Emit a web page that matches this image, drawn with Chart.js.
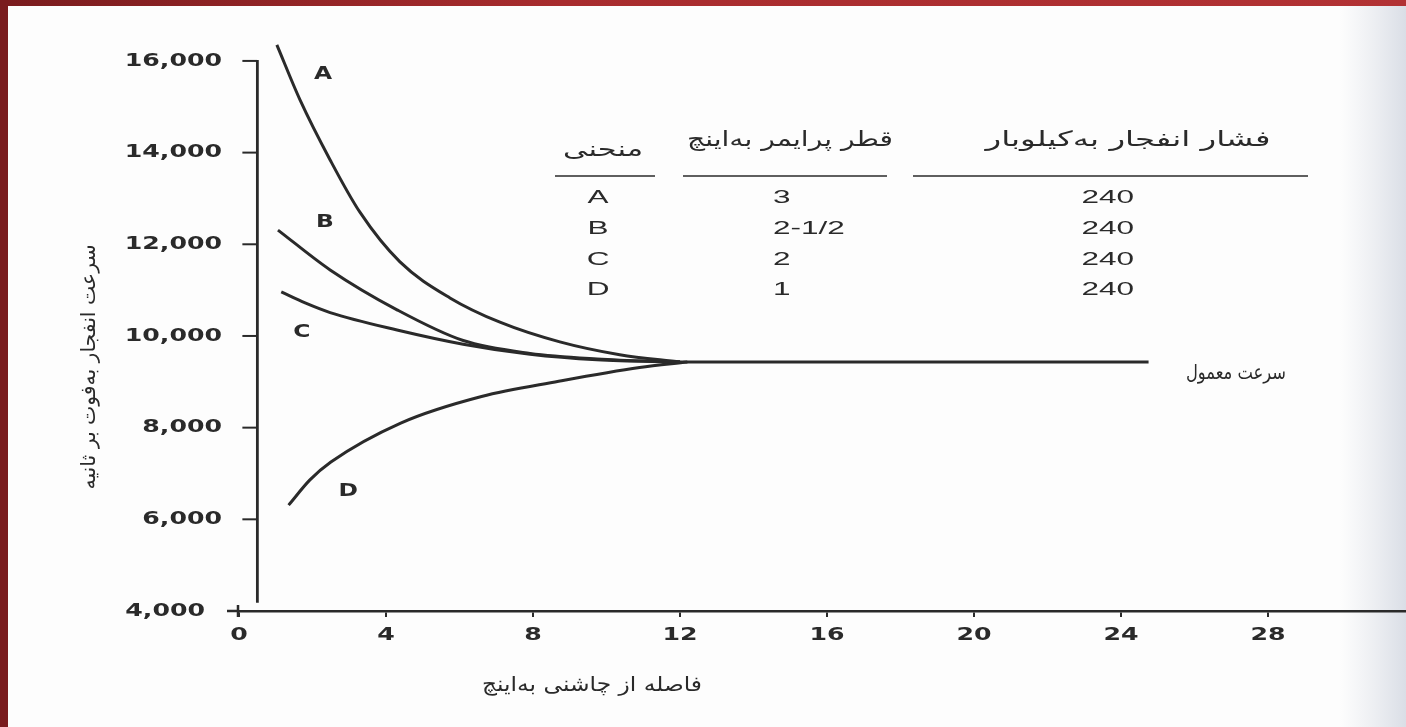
<!DOCTYPE html>
<html>
<head>
<meta charset="utf-8">
<script src="https://cdn.jsdelivr.net/npm/chart.js@4.4.0/dist/chart.umd.min.js"></script>
<style>
  body { margin: 0; background: #fdfdfd; overflow: hidden; }
  #wrap { position: relative; width: 1406px; height: 727px; }
  #topBand { position: absolute; left: 0; top: 0; width: 1406px; height: 6px; background: linear-gradient(to right, #7a1c1e, #a82c2e 40%, #b23234); }
  #leftBand { position: absolute; left: 0; top: 0; width: 8px; height: 727px; background: #7a1c1e; }
</style>
</head>
<body>
<div id="wrap">
  <canvas id="myChart" width="1406" height="727"></canvas>
  <div id="topBand"></div>
  <div id="leftBand"></div>
</div>
<script>
// منحنی ها : فاصله (اینچ) و سرعت (فوت بر ثانیه)
const curveAx = [1.03, 1.66, 2.48, 3.29, 4.38, 5.74, 7.1, 8.73, 10.36, 12];
const curveAy = [16350, 15150, 13840, 12700, 11615, 10830, 10300, 9870, 9590, 9430];
const curveBx = [1.06, 2.48, 4.3, 6.1, 7.92, 9.74, 12];
const curveBy = [12310, 11440, 10570, 9900, 9620, 9500, 9430];
const curveCx = [1.15, 1.8, 2.48, 4.3, 6.1, 7.92, 9.74, 12];
const curveCy = [10960, 10720, 10510, 10130, 9820, 9600, 9480, 9430];
const curveDx = [1.35, 1.93, 2.5, 4.4, 6.6, 8.7, 10.9, 12.2];
const curveDy = [6310, 6860, 7250, 8100, 8680, 9010, 9310, 9430];
const normalX = [11.5, 24.75];
const normalY = [9430, 9430];

const xTicks = [0, 4, 8, 12, 16, 20, 24, 28];
const yTicks = [4000, 6000, 8000, 10000, 12000, 14000, 16000];

// جدول
const tableCurves = ["A", "B", "C", "D"];
const tableDiam = ["3", "2-1/2", "2", "1"];
const tablePressure = ["240", "240", "240", "240"];

const txtHeadCurve = "منحنی";
const txtHeadDiam = "قطر پرایمر به\u200cاینچ";
const txtHeadPress = "فشار انفجار به\u200cکیلوبار";
const txtYTitle = "سرعت انفجار به\u200cفوت بر ثانیه";
const txtXTitle = "فاصله از چاشنی به\u200cاینچ";
const txtNormal = "سرعت معمول";

const ink = "#2a2a2a";

function pts(xs, ys) {
    return xs.map((x, i) => ({ x: x, y: ys[i] }));
}

function curve(xs, ys) {
    return {
        data: pts(xs, ys),
        borderColor: ink,
        borderWidth: 3,
        pointRadius: 0,
        cubicInterpolationMode: "monotone",
        fill: false
    };
}

// texte etire horizontalement (le scan est elargi)
function stretched(ctx, text, x, y, font, sx, align, rtl) {
    ctx.save();
    ctx.font = font;
    ctx.direction = rtl ? "rtl" : "ltr";
    ctx.textAlign = align;
    ctx.textBaseline = "middle";
    ctx.fillStyle = ink;
    ctx.translate(x, y);
    ctx.scale(sx, 1);
    ctx.fillText(text, 0, 0);
    ctx.restore();
}

function fitted(ctx, text, cx, cy, font, width, rot) {
    ctx.save();
    ctx.font = font;
    ctx.direction = "rtl";
    ctx.textAlign = "center";
    ctx.textBaseline = "middle";
    ctx.fillStyle = ink;
    const w = ctx.measureText(text).width;
    ctx.translate(cx, cy);
    if (rot) ctx.rotate(rot);
    ctx.scale(width / w, 1);
    ctx.fillText(text, 0, 0);
    ctx.restore();
}

const fond = {
    id: "fond",
    beforeDraw(chart) {
        const ctx = chart.ctx;
        ctx.save();
        ctx.fillStyle = "#fdfdfd";
        ctx.fillRect(0, 0, chart.width, chart.height);
        const g = ctx.createLinearGradient(1340, 0, 1406, 0);
        g.addColorStop(0, "rgba(225,228,234,0)");
        g.addColorStop(1, "rgba(218,222,230,1)");
        ctx.fillStyle = g;
        ctx.fillRect(1340, 0, 66, chart.height);
        ctx.restore();
    }
};

const habillage = {
    id: "habillage",
    afterDraw(chart) {
        const ctx = chart.ctx;
        const xs = chart.scales.x;
        const ys = chart.scales.y;
        const bottom = chart.chartArea.bottom;

        ctx.save();
        ctx.strokeStyle = ink;
        ctx.lineWidth = 2.8;

        // axe vertical
        const x0 = xs.getPixelForValue(0.5);
        ctx.beginPath();
        ctx.moveTo(x0, ys.getPixelForValue(16000) - 1);
        ctx.lineTo(x0, ys.getPixelForValue(4180));
        ctx.stroke();

        ctx.lineWidth = 2;
        yTicks.forEach(v => {
            if (v == 4000) return;
            const py = ys.getPixelForValue(v);
            ctx.beginPath();
            ctx.moveTo(x0 - 15, py);
            ctx.lineTo(x0, py);
            ctx.stroke();
        });

        // croix a l'origine
        const xz = xs.getPixelForValue(0);
        ctx.lineWidth = 2.5;
        ctx.beginPath();
        ctx.moveTo(xz - 12, bottom);
        ctx.lineTo(xz, bottom);
        ctx.moveTo(xz - 1, bottom - 6);
        ctx.lineTo(xz - 1, bottom + 6);
        ctx.stroke();
        ctx.restore();

        const tickFont = "bold 18px 'DejaVu Sans'";
        yTicks.forEach(v => {
            const py = ys.getPixelForValue(v);
            const right = v == 4000 ? 205 : 222;
            stretched(ctx, v.toLocaleString("en-US"), right, py, tickFont, 1.4, "right");
        });
        xTicks.forEach(v => {
            stretched(ctx, String(v), xs.getPixelForValue(v), bottom + 24, tickFont, 1.4, "center");
        });

        // lettres des courbes
        const lettre = "bold 18px 'DejaVu Sans'";
        stretched(ctx, "A", xs.getPixelForValue(2.29), ys.getPixelForValue(15700), lettre, 1.3, "center");
        stretched(ctx, "B", xs.getPixelForValue(2.34), ys.getPixelForValue(12470), lettre, 1.3, "center");
        stretched(ctx, "C", xs.getPixelForValue(1.71), ys.getPixelForValue(10070), lettre, 1.3, "center");
        stretched(ctx, "D", xs.getPixelForValue(2.97), ys.getPixelForValue(6600), lettre, 1.3, "center");

        // tableau
        const arabe = "21px 'DejaVu Sans'";
        fitted(ctx, txtHeadCurve, 603, 151, arabe, 80);
        fitted(ctx, txtHeadDiam, 790, 141, arabe, 206);
        fitted(ctx, txtHeadPress, 1128, 141, arabe, 285);

        ctx.save();
        ctx.strokeStyle = ink;
        ctx.lineWidth = 1.6;
        [[555, 655], [683, 887], [913, 1308]].forEach(s => {
            ctx.beginPath();
            ctx.moveTo(s[0], 176);
            ctx.lineTo(s[1], 176);
            ctx.stroke();
        });
        ctx.restore();

        const rowY = [198, 229, 260, 290];
        const tabFont = "18px 'Liberation Sans'";
        tableCurves.forEach((c, i) => {
            stretched(ctx, c, 598, rowY[i], tabFont, 1.75, "center");
            stretched(ctx, tableDiam[i], 773, rowY[i], tabFont, 1.75, "left");
            stretched(ctx, tablePressure[i], 1134, rowY[i], tabFont, 1.75, "right");
        });

        // titres
        fitted(ctx, txtYTitle, 90, 367, "20px 'DejaVu Sans'", 245, -Math.PI / 2);
        fitted(ctx, txtXTitle, 592, 686, "20px 'DejaVu Sans'", 220);
        fitted(ctx, txtNormal, 1236, 374, "20px 'DejaVu Sans'", 100);
    }
};

const ctx = document.getElementById("myChart");
const chart = new Chart(ctx, {
    type: "line",
    data: {
        datasets: [
            curve(curveAx, curveAy),
            curve(curveBx, curveBy),
            curve(curveCx, curveCy),
            curve(curveDx, curveDy),
            curve(normalX, normalY)
        ]
    },
    options: {
        responsive: false,
        animation: false,
        layout: {
            padding: { left: 239, right: 0, top: 38, bottom: 108 }
        },
        plugins: {
            legend: { display: false },
            tooltip: { enabled: false }
        },
        scales: {
            x: {
                type: "linear",
                min: 0,
                max: 31.755,
                afterBuildTicks: s => { s.ticks = xTicks.map(v => ({ value: v })); },
                afterFit: s => { s.height = 8; },
                ticks: { display: false },
                grid: { drawOnChartArea: false, drawTicks: true, tickLength: 6, color: ink, lineWidth: 2 },
                border: { display: true, color: ink, width: 2.5 }
            },
            y: {
                type: "linear",
                min: 4000,
                max: 16500,
                display: false
            }
        }
    },
    plugins: [fond, habillage]
});
</script>
</body>
</html>
